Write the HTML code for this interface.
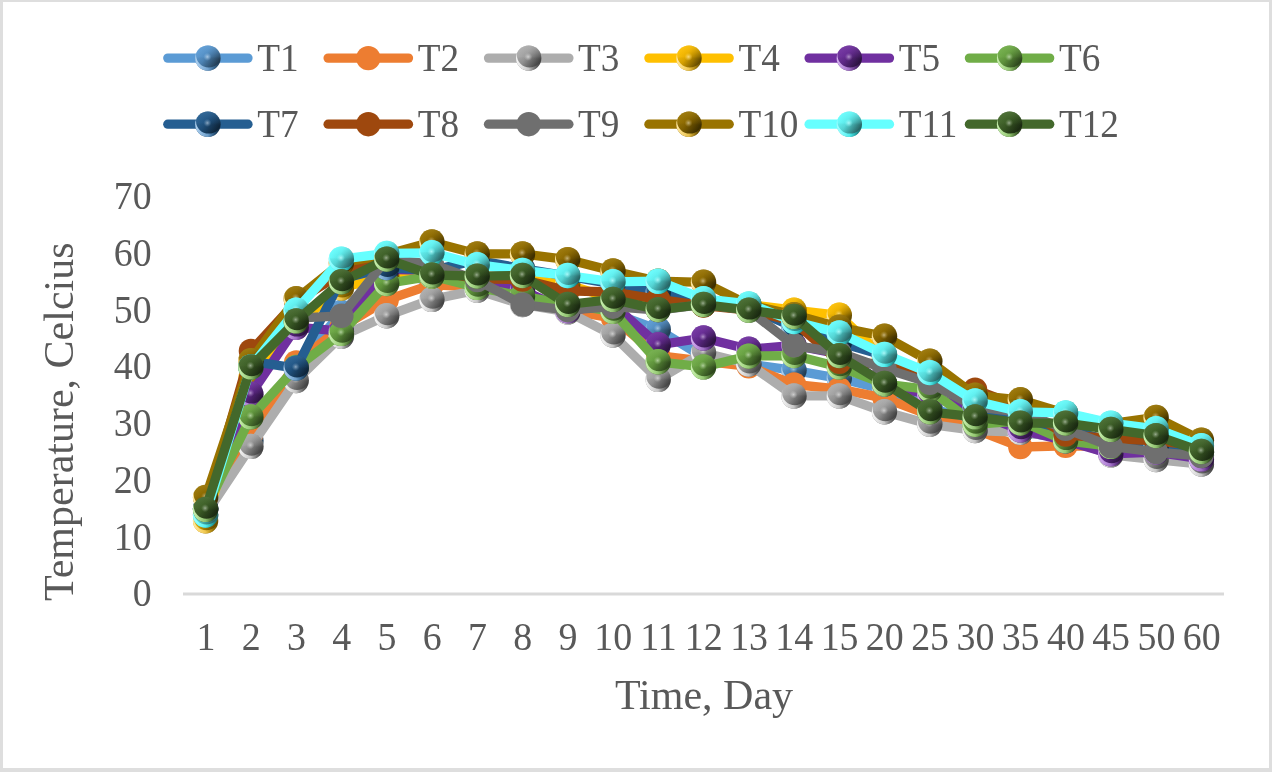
<!DOCTYPE html>
<html><head><meta charset="utf-8"><style>
html,body{margin:0;padding:0;background:#fff;}
body{width:1272px;height:772px;overflow:hidden;position:relative;}
.frame{position:absolute;left:0;top:0;width:1272px;height:772px;box-sizing:border-box;border-style:solid;border-color:#dedede;border-width:2px 3px 4px 3px;background:#fff;}
svg{position:absolute;left:0;top:0;}
.tx{will-change:transform;}
text{font-family:"Liberation Serif", serif;fill:#595959;}
.lg{font-size:38.6px;}
.ax{font-size:38.5px;}
.tt{font-size:42px;}
</style></head><body><div class="frame"></div>
<svg width="1272" height="772" viewBox="0 0 1272 772">
<defs><clipPath id="cc"><circle r="12.7"/></clipPath><linearGradient id="g0" x1="0.05" y1="0.2" x2="0.95" y2="0.65">
<stop offset="0" stop-color="#63a0d7"/><stop offset="0.4" stop-color="#518bbf"/><stop offset="1" stop-color="#243e55"/></linearGradient>
<linearGradient id="v0" x1="0" y1="0" x2="0" y2="1"><stop offset="0" stop-color="#6ba5d9" stop-opacity="0.7"/><stop offset="0.45" stop-color="#5B9BD5" stop-opacity="0.1"/><stop offset="0.55" stop-color="#000000" stop-opacity="0.05"/><stop offset="1" stop-color="#000000" stop-opacity="0.15"/></linearGradient>
<radialGradient id="r0" cx="0.48" cy="0.45" r="0.16"><stop offset="0" stop-color="#bdd7ee" stop-opacity="0.8"/><stop offset="1" stop-color="#8cb9e1" stop-opacity="0"/></radialGradient>
<linearGradient id="c0" x1="0" y1="0" x2="1" y2="0"><stop offset="0.1" stop-color="#aacded"/><stop offset="0.5" stop-color="#7dafdd" stop-opacity="0.85"/><stop offset="0.9" stop-color="#3383cb" stop-opacity="0.1"/></linearGradient>
<g id="s0"><circle r="12.7" fill="url(#g0)"/><circle r="12.7" fill="url(#v0)"/><circle r="12.7" fill="url(#r0)"/><path clip-path="url(#cc)" fill-rule="evenodd" fill="url(#c0)" d="M-14,-14H14V14H-14Z M-11.90,-3.3 a12.7,12.7 0 1,0 25.40,0 a12.7,12.7 0 1,0 -25.40,0Z"/></g><linearGradient id="g2" x1="0.05" y1="0.2" x2="0.95" y2="0.65">
<stop offset="0" stop-color="#b1b1b1"/><stop offset="0.4" stop-color="#9b9b9b"/><stop offset="1" stop-color="#454545"/></linearGradient>
<linearGradient id="v2" x1="0" y1="0" x2="0" y2="1"><stop offset="0" stop-color="#b5b5b5" stop-opacity="0.7"/><stop offset="0.45" stop-color="#ADADAD" stop-opacity="0.1"/><stop offset="0.55" stop-color="#000000" stop-opacity="0.05"/><stop offset="1" stop-color="#000000" stop-opacity="0.15"/></linearGradient>
<radialGradient id="r2" cx="0.48" cy="0.45" r="0.16"><stop offset="0" stop-color="#dedede" stop-opacity="0.8"/><stop offset="1" stop-color="#c5c5c5" stop-opacity="0"/></radialGradient>
<linearGradient id="c2" x1="0" y1="0" x2="1" y2="0"><stop offset="0.1" stop-color="#f2f2f2"/><stop offset="0.5" stop-color="#d8d8d8" stop-opacity="0.85"/><stop offset="0.9" stop-color="#7f7f7f" stop-opacity="0.1"/></linearGradient>
<g id="s2"><circle r="12.7" fill="url(#g2)"/><circle r="12.7" fill="url(#v2)"/><circle r="12.7" fill="url(#r2)"/><path clip-path="url(#cc)" fill-rule="evenodd" fill="url(#c2)" d="M-14,-14H14V14H-14Z M-11.90,-3.3 a12.7,12.7 0 1,0 25.40,0 a12.7,12.7 0 1,0 -25.40,0Z"/></g><linearGradient id="g3" x1="0.05" y1="0.2" x2="0.95" y2="0.65">
<stop offset="0" stop-color="#ffc30c"/><stop offset="0.4" stop-color="#e5ac00"/><stop offset="1" stop-color="#664c00"/></linearGradient>
<linearGradient id="v3" x1="0" y1="0" x2="0" y2="1"><stop offset="0" stop-color="#ffc619" stop-opacity="0.7"/><stop offset="0.45" stop-color="#FFC000" stop-opacity="0.1"/><stop offset="0.55" stop-color="#000000" stop-opacity="0.05"/><stop offset="1" stop-color="#000000" stop-opacity="0.15"/></linearGradient>
<radialGradient id="r3" cx="0.48" cy="0.45" r="0.16"><stop offset="0" stop-color="#ffe599" stop-opacity="0.8"/><stop offset="1" stop-color="#ffd24c" stop-opacity="0"/></radialGradient>
<linearGradient id="c3" x1="0" y1="0" x2="1" y2="0"><stop offset="0.1" stop-color="#ffe599"/><stop offset="0.5" stop-color="#ffd65b" stop-opacity="0.85"/><stop offset="0.9" stop-color="#ffc000" stop-opacity="0.1"/></linearGradient>
<g id="s3"><circle r="12.7" fill="url(#g3)"/><circle r="12.7" fill="url(#v3)"/><circle r="12.7" fill="url(#r3)"/><path clip-path="url(#cc)" fill-rule="evenodd" fill="url(#c3)" d="M-14,-14H14V14H-14Z M-11.90,-3.3 a12.7,12.7 0 1,0 25.40,0 a12.7,12.7 0 1,0 -25.40,0Z"/></g><linearGradient id="g4" x1="0.05" y1="0.2" x2="0.95" y2="0.65">
<stop offset="0" stop-color="#773aa4"/><stop offset="0.4" stop-color="#642b90"/><stop offset="1" stop-color="#2c1340"/></linearGradient>
<linearGradient id="v4" x1="0" y1="0" x2="0" y2="1"><stop offset="0" stop-color="#7e44a9" stop-opacity="0.7"/><stop offset="0.45" stop-color="#7030A0" stop-opacity="0.1"/><stop offset="0.55" stop-color="#000000" stop-opacity="0.05"/><stop offset="1" stop-color="#000000" stop-opacity="0.15"/></linearGradient>
<radialGradient id="r4" cx="0.48" cy="0.45" r="0.16"><stop offset="0" stop-color="#c5acd9" stop-opacity="0.8"/><stop offset="1" stop-color="#9a6ebc" stop-opacity="0"/></radialGradient>
<linearGradient id="c4" x1="0" y1="0" x2="1" y2="0"><stop offset="0.1" stop-color="#d0aaed"/><stop offset="0.5" stop-color="#b380da" stop-opacity="0.85"/><stop offset="0.9" stop-color="#893ac4" stop-opacity="0.1"/></linearGradient>
<g id="s4"><circle r="12.7" fill="url(#g4)"/><circle r="12.7" fill="url(#v4)"/><circle r="12.7" fill="url(#r4)"/><path clip-path="url(#cc)" fill-rule="evenodd" fill="url(#c4)" d="M-14,-14H14V14H-14Z M-11.90,-3.3 a12.7,12.7 0 1,0 25.40,0 a12.7,12.7 0 1,0 -25.40,0Z"/></g><linearGradient id="g5" x1="0.05" y1="0.2" x2="0.95" y2="0.65">
<stop offset="0" stop-color="#77b150"/><stop offset="0.4" stop-color="#649b3f"/><stop offset="1" stop-color="#2c451c"/></linearGradient>
<linearGradient id="v5" x1="0" y1="0" x2="0" y2="1"><stop offset="0" stop-color="#7eb559" stop-opacity="0.7"/><stop offset="0.45" stop-color="#70AD47" stop-opacity="0.1"/><stop offset="0.55" stop-color="#000000" stop-opacity="0.05"/><stop offset="1" stop-color="#000000" stop-opacity="0.15"/></linearGradient>
<radialGradient id="r5" cx="0.48" cy="0.45" r="0.16"><stop offset="0" stop-color="#c5deb5" stop-opacity="0.8"/><stop offset="1" stop-color="#9ac57e" stop-opacity="0"/></radialGradient>
<linearGradient id="c5" x1="0" y1="0" x2="1" y2="0"><stop offset="0.1" stop-color="#c5edaa"/><stop offset="0.5" stop-color="#a4da80" stop-opacity="0.85"/><stop offset="0.9" stop-color="#75b44a" stop-opacity="0.1"/></linearGradient>
<g id="s5"><circle r="12.7" fill="url(#g5)"/><circle r="12.7" fill="url(#v5)"/><circle r="12.7" fill="url(#r5)"/><path clip-path="url(#cc)" fill-rule="evenodd" fill="url(#c5)" d="M-14,-14H14V14H-14Z M-11.90,-3.3 a12.7,12.7 0 1,0 25.40,0 a12.7,12.7 0 1,0 -25.40,0Z"/></g><linearGradient id="g6" x1="0.05" y1="0.2" x2="0.95" y2="0.65">
<stop offset="0" stop-color="#2f6696"/><stop offset="0.4" stop-color="#215482"/><stop offset="1" stop-color="#0e253a"/></linearGradient>
<linearGradient id="v6" x1="0" y1="0" x2="0" y2="1"><stop offset="0" stop-color="#3a6e9c" stop-opacity="0.7"/><stop offset="0.45" stop-color="#255E91" stop-opacity="0.1"/><stop offset="0.55" stop-color="#000000" stop-opacity="0.05"/><stop offset="1" stop-color="#000000" stop-opacity="0.15"/></linearGradient>
<radialGradient id="r6" cx="0.48" cy="0.45" r="0.16"><stop offset="0" stop-color="#a7bed3" stop-opacity="0.8"/><stop offset="1" stop-color="#668eb2" stop-opacity="0"/></radialGradient>
<linearGradient id="c6" x1="0" y1="0" x2="1" y2="0"><stop offset="0.1" stop-color="#aacded"/><stop offset="0.5" stop-color="#7cb0dd" stop-opacity="0.85"/><stop offset="0.9" stop-color="#3383cb" stop-opacity="0.1"/></linearGradient>
<g id="s6"><circle r="12.7" fill="url(#g6)"/><circle r="12.7" fill="url(#v6)"/><circle r="12.7" fill="url(#r6)"/><path clip-path="url(#cc)" fill-rule="evenodd" fill="url(#c6)" d="M-14,-14H14V14H-14Z M-11.90,-3.3 a12.7,12.7 0 1,0 25.40,0 a12.7,12.7 0 1,0 -25.40,0Z"/></g><linearGradient id="g9" x1="0.05" y1="0.2" x2="0.95" y2="0.65">
<stop offset="0" stop-color="#9e7a0c"/><stop offset="0.4" stop-color="#896700"/><stop offset="1" stop-color="#3d2e00"/></linearGradient>
<linearGradient id="v9" x1="0" y1="0" x2="0" y2="1"><stop offset="0" stop-color="#a38119" stop-opacity="0.7"/><stop offset="0.45" stop-color="#997300" stop-opacity="0.1"/><stop offset="0.55" stop-color="#000000" stop-opacity="0.05"/><stop offset="1" stop-color="#000000" stop-opacity="0.15"/></linearGradient>
<radialGradient id="r9" cx="0.48" cy="0.45" r="0.16"><stop offset="0" stop-color="#d6c799" stop-opacity="0.8"/><stop offset="1" stop-color="#b79d4c" stop-opacity="0"/></radialGradient>
<linearGradient id="c9" x1="0" y1="0" x2="1" y2="0"><stop offset="0.1" stop-color="#ffe599"/><stop offset="0.5" stop-color="#ffd65b" stop-opacity="0.85"/><stop offset="0.9" stop-color="#ffbf00" stop-opacity="0.1"/></linearGradient>
<g id="s9"><circle r="12.7" fill="url(#g9)"/><circle r="12.7" fill="url(#v9)"/><circle r="12.7" fill="url(#r9)"/><path clip-path="url(#cc)" fill-rule="evenodd" fill="url(#c9)" d="M-14,-14H14V14H-14Z M-11.90,-3.3 a12.7,12.7 0 1,0 25.40,0 a12.7,12.7 0 1,0 -25.40,0Z"/></g><linearGradient id="g10" x1="0.05" y1="0.2" x2="0.95" y2="0.65">
<stop offset="0" stop-color="#6dffff"/><stop offset="0.4" stop-color="#5be5e5"/><stop offset="1" stop-color="#286666"/></linearGradient>
<linearGradient id="v10" x1="0" y1="0" x2="0" y2="1"><stop offset="0" stop-color="#75ffff" stop-opacity="0.7"/><stop offset="0.45" stop-color="#66FFFF" stop-opacity="0.1"/><stop offset="0.55" stop-color="#000000" stop-opacity="0.05"/><stop offset="1" stop-color="#000000" stop-opacity="0.15"/></linearGradient>
<radialGradient id="r10" cx="0.48" cy="0.45" r="0.16"><stop offset="0" stop-color="#c1ffff" stop-opacity="0.8"/><stop offset="1" stop-color="#93ffff" stop-opacity="0"/></radialGradient>
<linearGradient id="c10" x1="0" y1="0" x2="1" y2="0"><stop offset="0.1" stop-color="#99feff"/><stop offset="0.5" stop-color="#5bfeff" stop-opacity="0.85"/><stop offset="0.9" stop-color="#00feff" stop-opacity="0.1"/></linearGradient>
<g id="s10"><circle r="12.7" fill="url(#g10)"/><circle r="12.7" fill="url(#v10)"/><circle r="12.7" fill="url(#r10)"/><path clip-path="url(#cc)" fill-rule="evenodd" fill="url(#c10)" d="M-14,-14H14V14H-14Z M-11.90,-3.3 a12.7,12.7 0 1,0 25.40,0 a12.7,12.7 0 1,0 -25.40,0Z"/></g><linearGradient id="g11" x1="0.05" y1="0.2" x2="0.95" y2="0.65">
<stop offset="0" stop-color="#4c6f35"/><stop offset="0.4" stop-color="#3c5d26"/><stop offset="1" stop-color="#1a2911"/></linearGradient>
<linearGradient id="v11" x1="0" y1="0" x2="0" y2="1"><stop offset="0" stop-color="#557740" stop-opacity="0.7"/><stop offset="0.45" stop-color="#43682B" stop-opacity="0.1"/><stop offset="0.55" stop-color="#000000" stop-opacity="0.05"/><stop offset="1" stop-color="#000000" stop-opacity="0.15"/></linearGradient>
<radialGradient id="r11" cx="0.48" cy="0.45" r="0.16"><stop offset="0" stop-color="#b3c2aa" stop-opacity="0.8"/><stop offset="1" stop-color="#7b956a" stop-opacity="0"/></radialGradient>
<linearGradient id="c11" x1="0" y1="0" x2="1" y2="0"><stop offset="0.1" stop-color="#c4edaa"/><stop offset="0.5" stop-color="#a3da80" stop-opacity="0.85"/><stop offset="0.9" stop-color="#74b44a" stop-opacity="0.1"/></linearGradient>
<g id="s11"><circle r="12.7" fill="url(#g11)"/><circle r="12.7" fill="url(#v11)"/><circle r="12.7" fill="url(#r11)"/><path clip-path="url(#cc)" fill-rule="evenodd" fill="url(#c11)" d="M-14,-14H14V14H-14Z M-11.90,-3.3 a12.7,12.7 0 1,0 25.40,0 a12.7,12.7 0 1,0 -25.40,0Z"/></g></defs>
<line x1="183" y1="594" x2="1224" y2="594" stroke="#d9d9d9" stroke-width="3"/>
<g><polyline points="205.6,508.8 250.9,440.7 296.2,366.9 341.4,312.4 386.7,270.4 431.9,281.8 477.2,287.4 522.5,298.8 567.7,307.3 613.0,313.0 658.2,329.5 703.5,357.3 748.8,364.1 794.0,370.3 839.3,378.3 884.5,389.6 929.8,406.7 975.1,423.7 1020.3,432.2 1065.6,437.9 1110.8,446.4 1156.1,449.2 1201.4,454.9" fill="none" stroke="#5B9BD5" stroke-width="9.3" stroke-linejoin="round" stroke-linecap="round"/><use href="#s0" x="205.6" y="508.8"/><use href="#s0" x="250.9" y="440.7"/><use href="#s0" x="296.2" y="366.9"/><use href="#s0" x="341.4" y="312.4"/><use href="#s0" x="386.7" y="270.4"/><use href="#s0" x="431.9" y="281.8"/><use href="#s0" x="477.2" y="287.4"/><use href="#s0" x="522.5" y="298.8"/><use href="#s0" x="567.7" y="307.3"/><use href="#s0" x="613.0" y="313.0"/><use href="#s0" x="658.2" y="329.5"/><use href="#s0" x="703.5" y="357.3"/><use href="#s0" x="748.8" y="364.1"/><use href="#s0" x="794.0" y="370.3"/><use href="#s0" x="839.3" y="378.3"/><use href="#s0" x="884.5" y="389.6"/><use href="#s0" x="929.8" y="406.7"/><use href="#s0" x="975.1" y="423.7"/><use href="#s0" x="1020.3" y="432.2"/><use href="#s0" x="1065.6" y="437.9"/><use href="#s0" x="1110.8" y="446.4"/><use href="#s0" x="1156.1" y="449.2"/><use href="#s0" x="1201.4" y="454.9"/></g><g><polyline points="205.6,514.5 250.9,435.0 296.2,362.4 341.4,327.2 386.7,299.9 431.9,284.6 477.2,287.4 522.5,298.8 567.7,310.2 613.0,318.1 658.2,355.6 703.5,361.2 748.8,366.4 794.0,384.5 839.3,389.1 884.5,398.1 929.8,415.2 975.1,429.4 1020.3,447.0 1065.6,445.8 1110.8,446.4 1156.1,443.6 1201.4,457.8" fill="none" stroke="#ED7D31" stroke-width="9.3" stroke-linejoin="round" stroke-linecap="round"/><circle cx="205.6" cy="514.5" r="12.2" fill="#ED7D31"/><circle cx="250.9" cy="435.0" r="12.2" fill="#ED7D31"/><circle cx="296.2" cy="362.4" r="12.2" fill="#ED7D31"/><circle cx="341.4" cy="327.2" r="12.2" fill="#ED7D31"/><circle cx="386.7" cy="299.9" r="12.2" fill="#ED7D31"/><circle cx="431.9" cy="284.6" r="12.2" fill="#ED7D31"/><circle cx="477.2" cy="287.4" r="12.2" fill="#ED7D31"/><circle cx="522.5" cy="298.8" r="12.2" fill="#ED7D31"/><circle cx="567.7" cy="310.2" r="12.2" fill="#ED7D31"/><circle cx="613.0" cy="318.1" r="12.2" fill="#ED7D31"/><circle cx="658.2" cy="355.6" r="12.2" fill="#ED7D31"/><circle cx="703.5" cy="361.2" r="12.2" fill="#ED7D31"/><circle cx="748.8" cy="366.4" r="12.2" fill="#ED7D31"/><circle cx="794.0" cy="384.5" r="12.2" fill="#ED7D31"/><circle cx="839.3" cy="389.1" r="12.2" fill="#ED7D31"/><circle cx="884.5" cy="398.1" r="12.2" fill="#ED7D31"/><circle cx="929.8" cy="415.2" r="12.2" fill="#ED7D31"/><circle cx="975.1" cy="429.4" r="12.2" fill="#ED7D31"/><circle cx="1020.3" cy="447.0" r="12.2" fill="#ED7D31"/><circle cx="1065.6" cy="445.8" r="12.2" fill="#ED7D31"/><circle cx="1110.8" cy="446.4" r="12.2" fill="#ED7D31"/><circle cx="1156.1" cy="443.6" r="12.2" fill="#ED7D31"/><circle cx="1201.4" cy="457.8" r="12.2" fill="#ED7D31"/></g><g><polyline points="205.6,514.5 250.9,446.4 296.2,380.5 341.4,336.3 386.7,315.8 431.9,299.4 477.2,290.3 522.5,304.5 567.7,311.9 613.0,335.1 658.2,379.4 703.5,352.7 748.8,364.1 794.0,395.9 839.3,395.9 884.5,411.8 929.8,424.3 975.1,430.5 1020.3,432.2 1065.6,437.9 1110.8,454.9 1156.1,459.5 1201.4,464.0" fill="none" stroke="#ADADAD" stroke-width="9.3" stroke-linejoin="round" stroke-linecap="round"/><use href="#s2" x="205.6" y="514.5"/><use href="#s2" x="250.9" y="446.4"/><use href="#s2" x="296.2" y="380.5"/><use href="#s2" x="341.4" y="336.3"/><use href="#s2" x="386.7" y="315.8"/><use href="#s2" x="431.9" y="299.4"/><use href="#s2" x="477.2" y="290.3"/><use href="#s2" x="522.5" y="304.5"/><use href="#s2" x="567.7" y="311.9"/><use href="#s2" x="613.0" y="335.1"/><use href="#s2" x="658.2" y="379.4"/><use href="#s2" x="703.5" y="352.7"/><use href="#s2" x="748.8" y="364.1"/><use href="#s2" x="794.0" y="395.9"/><use href="#s2" x="839.3" y="395.9"/><use href="#s2" x="884.5" y="411.8"/><use href="#s2" x="929.8" y="424.3"/><use href="#s2" x="975.1" y="430.5"/><use href="#s2" x="1020.3" y="432.2"/><use href="#s2" x="1065.6" y="437.9"/><use href="#s2" x="1110.8" y="454.9"/><use href="#s2" x="1156.1" y="459.5"/><use href="#s2" x="1201.4" y="464.0"/></g><g><polyline points="205.6,520.8 250.9,378.3 296.2,324.3 341.4,288.0 386.7,276.1 431.9,276.1 477.2,281.8 522.5,278.9 567.7,284.6 613.0,298.8 658.2,304.5 703.5,304.5 748.8,304.5 794.0,310.2 839.3,315.3 884.5,357.8 929.8,378.3 975.1,406.7 1020.3,418.0 1065.6,429.4 1110.8,440.7 1156.1,443.0 1201.4,452.1" fill="none" stroke="#FFC000" stroke-width="9.3" stroke-linejoin="round" stroke-linecap="round"/><use href="#s3" x="205.6" y="520.8"/><use href="#s3" x="250.9" y="378.3"/><use href="#s3" x="296.2" y="324.3"/><use href="#s3" x="341.4" y="288.0"/><use href="#s3" x="386.7" y="276.1"/><use href="#s3" x="431.9" y="276.1"/><use href="#s3" x="477.2" y="281.8"/><use href="#s3" x="522.5" y="278.9"/><use href="#s3" x="567.7" y="284.6"/><use href="#s3" x="613.0" y="298.8"/><use href="#s3" x="658.2" y="304.5"/><use href="#s3" x="703.5" y="304.5"/><use href="#s3" x="748.8" y="304.5"/><use href="#s3" x="794.0" y="310.2"/><use href="#s3" x="839.3" y="315.3"/><use href="#s3" x="884.5" y="357.8"/><use href="#s3" x="929.8" y="378.3"/><use href="#s3" x="975.1" y="406.7"/><use href="#s3" x="1020.3" y="418.0"/><use href="#s3" x="1065.6" y="429.4"/><use href="#s3" x="1110.8" y="440.7"/><use href="#s3" x="1156.1" y="443.0"/><use href="#s3" x="1201.4" y="452.1"/></g><g><polyline points="205.6,508.8 250.9,394.2 296.2,327.2 341.4,331.2 386.7,269.3 431.9,270.4 477.2,281.8 522.5,290.3 567.7,310.7 613.0,304.5 658.2,344.8 703.5,338.0 748.8,349.3 794.0,345.3 839.3,353.9 884.5,384.0 929.8,395.3 975.1,412.3 1020.3,429.9 1065.6,440.7 1110.8,453.8 1156.1,452.1 1201.4,458.9" fill="none" stroke="#7030A0" stroke-width="9.3" stroke-linejoin="round" stroke-linecap="round"/><use href="#s4" x="205.6" y="508.8"/><use href="#s4" x="250.9" y="394.2"/><use href="#s4" x="296.2" y="327.2"/><use href="#s4" x="341.4" y="331.2"/><use href="#s4" x="386.7" y="269.3"/><use href="#s4" x="431.9" y="270.4"/><use href="#s4" x="477.2" y="281.8"/><use href="#s4" x="522.5" y="290.3"/><use href="#s4" x="567.7" y="310.7"/><use href="#s4" x="613.0" y="304.5"/><use href="#s4" x="658.2" y="344.8"/><use href="#s4" x="703.5" y="338.0"/><use href="#s4" x="748.8" y="349.3"/><use href="#s4" x="794.0" y="345.3"/><use href="#s4" x="839.3" y="353.9"/><use href="#s4" x="884.5" y="384.0"/><use href="#s4" x="929.8" y="395.3"/><use href="#s4" x="975.1" y="412.3"/><use href="#s4" x="1020.3" y="429.9"/><use href="#s4" x="1065.6" y="440.7"/><use href="#s4" x="1110.8" y="453.8"/><use href="#s4" x="1156.1" y="452.1"/><use href="#s4" x="1201.4" y="458.9"/></g><g><polyline points="205.6,508.8 250.9,416.9 296.2,367.5 341.4,333.4 386.7,283.5 431.9,276.1 477.2,287.4 522.5,296.0 567.7,304.5 613.0,311.3 658.2,361.8 703.5,366.9 748.8,356.1 794.0,355.6 839.3,366.9 884.5,384.0 929.8,389.6 975.1,424.3 1020.3,420.9 1065.6,440.7 1110.8,446.4 1156.1,449.2 1201.4,452.1" fill="none" stroke="#70AD47" stroke-width="9.3" stroke-linejoin="round" stroke-linecap="round"/><use href="#s5" x="205.6" y="508.8"/><use href="#s5" x="250.9" y="416.9"/><use href="#s5" x="296.2" y="367.5"/><use href="#s5" x="341.4" y="333.4"/><use href="#s5" x="386.7" y="283.5"/><use href="#s5" x="431.9" y="276.1"/><use href="#s5" x="477.2" y="287.4"/><use href="#s5" x="522.5" y="296.0"/><use href="#s5" x="567.7" y="304.5"/><use href="#s5" x="613.0" y="311.3"/><use href="#s5" x="658.2" y="361.8"/><use href="#s5" x="703.5" y="366.9"/><use href="#s5" x="748.8" y="356.1"/><use href="#s5" x="794.0" y="355.6"/><use href="#s5" x="839.3" y="366.9"/><use href="#s5" x="884.5" y="384.0"/><use href="#s5" x="929.8" y="389.6"/><use href="#s5" x="975.1" y="424.3"/><use href="#s5" x="1020.3" y="420.9"/><use href="#s5" x="1065.6" y="440.7"/><use href="#s5" x="1110.8" y="446.4"/><use href="#s5" x="1156.1" y="449.2"/><use href="#s5" x="1201.4" y="452.1"/></g><g><polyline points="205.6,508.8 250.9,361.2 296.2,368.1 341.4,278.9 386.7,267.6 431.9,270.4 477.2,260.2 522.5,268.7 567.7,276.1 613.0,284.0 658.2,292.6 703.5,301.6 748.8,307.3 794.0,327.2 839.3,342.5 884.5,355.6 929.8,378.3 975.1,406.7 1020.3,418.0 1065.6,429.4 1110.8,440.7 1156.1,446.4 1201.4,452.1" fill="none" stroke="#255E91" stroke-width="9.3" stroke-linejoin="round" stroke-linecap="round"/><use href="#s6" x="205.6" y="508.8"/><use href="#s6" x="250.9" y="361.2"/><use href="#s6" x="296.2" y="368.1"/><use href="#s6" x="341.4" y="278.9"/><use href="#s6" x="386.7" y="267.6"/><use href="#s6" x="431.9" y="270.4"/><use href="#s6" x="477.2" y="260.2"/><use href="#s6" x="522.5" y="268.7"/><use href="#s6" x="567.7" y="276.1"/><use href="#s6" x="613.0" y="284.0"/><use href="#s6" x="658.2" y="292.6"/><use href="#s6" x="703.5" y="301.6"/><use href="#s6" x="748.8" y="307.3"/><use href="#s6" x="794.0" y="327.2"/><use href="#s6" x="839.3" y="342.5"/><use href="#s6" x="884.5" y="355.6"/><use href="#s6" x="929.8" y="378.3"/><use href="#s6" x="975.1" y="406.7"/><use href="#s6" x="1020.3" y="418.0"/><use href="#s6" x="1065.6" y="429.4"/><use href="#s6" x="1110.8" y="440.7"/><use href="#s6" x="1156.1" y="446.4"/><use href="#s6" x="1201.4" y="452.1"/></g><g><polyline points="205.6,508.8 250.9,351.0 296.2,301.6 341.4,273.2 386.7,256.2 431.9,270.4 477.2,278.9 522.5,279.5 567.7,290.8 613.0,292.0 658.2,299.4 703.5,305.6 748.8,310.2 794.0,321.5 839.3,361.8 884.5,364.1 929.8,378.3 975.1,389.6 1020.3,406.7 1065.6,434.5 1110.8,439.0 1156.1,440.7 1201.4,446.4" fill="none" stroke="#9E480E" stroke-width="9.3" stroke-linejoin="round" stroke-linecap="round"/><circle cx="205.6" cy="508.8" r="12.2" fill="#9E480E"/><circle cx="250.9" cy="351.0" r="12.2" fill="#9E480E"/><circle cx="296.2" cy="301.6" r="12.2" fill="#9E480E"/><circle cx="341.4" cy="273.2" r="12.2" fill="#9E480E"/><circle cx="386.7" cy="256.2" r="12.2" fill="#9E480E"/><circle cx="431.9" cy="270.4" r="12.2" fill="#9E480E"/><circle cx="477.2" cy="278.9" r="12.2" fill="#9E480E"/><circle cx="522.5" cy="279.5" r="12.2" fill="#9E480E"/><circle cx="567.7" cy="290.8" r="12.2" fill="#9E480E"/><circle cx="613.0" cy="292.0" r="12.2" fill="#9E480E"/><circle cx="658.2" cy="299.4" r="12.2" fill="#9E480E"/><circle cx="703.5" cy="305.6" r="12.2" fill="#9E480E"/><circle cx="748.8" cy="310.2" r="12.2" fill="#9E480E"/><circle cx="794.0" cy="321.5" r="12.2" fill="#9E480E"/><circle cx="839.3" cy="361.8" r="12.2" fill="#9E480E"/><circle cx="884.5" cy="364.1" r="12.2" fill="#9E480E"/><circle cx="929.8" cy="378.3" r="12.2" fill="#9E480E"/><circle cx="975.1" cy="389.6" r="12.2" fill="#9E480E"/><circle cx="1020.3" cy="406.7" r="12.2" fill="#9E480E"/><circle cx="1065.6" cy="434.5" r="12.2" fill="#9E480E"/><circle cx="1110.8" cy="439.0" r="12.2" fill="#9E480E"/><circle cx="1156.1" cy="440.7" r="12.2" fill="#9E480E"/><circle cx="1201.4" cy="446.4" r="12.2" fill="#9E480E"/></g><g><polyline points="205.6,508.8 250.9,361.2 296.2,318.1 341.4,315.8 386.7,259.1 431.9,264.2 477.2,280.1 522.5,304.5 567.7,310.2 613.0,306.7 658.2,310.2 703.5,304.5 748.8,310.2 794.0,345.3 839.3,352.7 884.5,368.6 929.8,382.8 975.1,406.7 1020.3,412.3 1065.6,428.8 1110.8,446.4 1156.1,452.1 1201.4,456.0" fill="none" stroke="#6f6f6f" stroke-width="9.3" stroke-linejoin="round" stroke-linecap="round"/><circle cx="205.6" cy="508.8" r="12.2" fill="#6f6f6f"/><circle cx="250.9" cy="361.2" r="12.2" fill="#6f6f6f"/><circle cx="296.2" cy="318.1" r="12.2" fill="#6f6f6f"/><circle cx="341.4" cy="315.8" r="12.2" fill="#6f6f6f"/><circle cx="386.7" cy="259.1" r="12.2" fill="#6f6f6f"/><circle cx="431.9" cy="264.2" r="12.2" fill="#6f6f6f"/><circle cx="477.2" cy="280.1" r="12.2" fill="#6f6f6f"/><circle cx="522.5" cy="304.5" r="12.2" fill="#6f6f6f"/><circle cx="567.7" cy="310.2" r="12.2" fill="#6f6f6f"/><circle cx="613.0" cy="306.7" r="12.2" fill="#6f6f6f"/><circle cx="658.2" cy="310.2" r="12.2" fill="#6f6f6f"/><circle cx="703.5" cy="304.5" r="12.2" fill="#6f6f6f"/><circle cx="748.8" cy="310.2" r="12.2" fill="#6f6f6f"/><circle cx="794.0" cy="345.3" r="12.2" fill="#6f6f6f"/><circle cx="839.3" cy="352.7" r="12.2" fill="#6f6f6f"/><circle cx="884.5" cy="368.6" r="12.2" fill="#6f6f6f"/><circle cx="929.8" cy="382.8" r="12.2" fill="#6f6f6f"/><circle cx="975.1" cy="406.7" r="12.2" fill="#6f6f6f"/><circle cx="1020.3" cy="412.3" r="12.2" fill="#6f6f6f"/><circle cx="1065.6" cy="428.8" r="12.2" fill="#6f6f6f"/><circle cx="1110.8" cy="446.4" r="12.2" fill="#6f6f6f"/><circle cx="1156.1" cy="452.1" r="12.2" fill="#6f6f6f"/><circle cx="1201.4" cy="456.0" r="12.2" fill="#6f6f6f"/></g><g><polyline points="205.6,497.5 250.9,360.7 296.2,298.8 341.4,263.0 386.7,254.5 431.9,242.0 477.2,253.9 522.5,253.9 567.7,259.6 613.0,271.0 658.2,281.2 703.5,282.3 748.8,305.0 794.0,314.7 839.3,327.2 884.5,336.3 929.8,361.2 975.1,395.3 1020.3,399.8 1065.6,413.5 1110.8,423.7 1156.1,417.4 1201.4,440.2" fill="none" stroke="#997300" stroke-width="9.3" stroke-linejoin="round" stroke-linecap="round"/><use href="#s9" x="205.6" y="497.5"/><use href="#s9" x="250.9" y="360.7"/><use href="#s9" x="296.2" y="298.8"/><use href="#s9" x="341.4" y="263.0"/><use href="#s9" x="386.7" y="254.5"/><use href="#s9" x="431.9" y="242.0"/><use href="#s9" x="477.2" y="253.9"/><use href="#s9" x="522.5" y="253.9"/><use href="#s9" x="567.7" y="259.6"/><use href="#s9" x="613.0" y="271.0"/><use href="#s9" x="658.2" y="281.2"/><use href="#s9" x="703.5" y="282.3"/><use href="#s9" x="748.8" y="305.0"/><use href="#s9" x="794.0" y="314.7"/><use href="#s9" x="839.3" y="327.2"/><use href="#s9" x="884.5" y="336.3"/><use href="#s9" x="929.8" y="361.2"/><use href="#s9" x="975.1" y="395.3"/><use href="#s9" x="1020.3" y="399.8"/><use href="#s9" x="1065.6" y="413.5"/><use href="#s9" x="1110.8" y="423.7"/><use href="#s9" x="1156.1" y="417.4"/><use href="#s9" x="1201.4" y="440.2"/></g><g><polyline points="205.6,515.1 250.9,366.9 296.2,310.2 341.4,259.1 386.7,253.4 431.9,252.8 477.2,264.7 522.5,270.4 567.7,275.5 613.0,281.8 658.2,281.2 703.5,298.8 748.8,303.9 794.0,321.5 839.3,332.9 884.5,354.4 929.8,372.6 975.1,401.0 1020.3,411.8 1065.6,412.9 1110.8,423.1 1156.1,428.8 1201.4,445.8" fill="none" stroke="#66FFFF" stroke-width="9.3" stroke-linejoin="round" stroke-linecap="round"/><use href="#s10" x="205.6" y="515.1"/><use href="#s10" x="250.9" y="366.9"/><use href="#s10" x="296.2" y="310.2"/><use href="#s10" x="341.4" y="259.1"/><use href="#s10" x="386.7" y="253.4"/><use href="#s10" x="431.9" y="252.8"/><use href="#s10" x="477.2" y="264.7"/><use href="#s10" x="522.5" y="270.4"/><use href="#s10" x="567.7" y="275.5"/><use href="#s10" x="613.0" y="281.8"/><use href="#s10" x="658.2" y="281.2"/><use href="#s10" x="703.5" y="298.8"/><use href="#s10" x="748.8" y="303.9"/><use href="#s10" x="794.0" y="321.5"/><use href="#s10" x="839.3" y="332.9"/><use href="#s10" x="884.5" y="354.4"/><use href="#s10" x="929.8" y="372.6"/><use href="#s10" x="975.1" y="401.0"/><use href="#s10" x="1020.3" y="411.8"/><use href="#s10" x="1065.6" y="412.9"/><use href="#s10" x="1110.8" y="423.1"/><use href="#s10" x="1156.1" y="428.8"/><use href="#s10" x="1201.4" y="445.8"/></g><g><polyline points="205.6,509.4 250.9,366.9 296.2,320.9 341.4,281.8 386.7,259.1 431.9,275.0 477.2,276.1 522.5,275.5 567.7,304.5 613.0,299.4 658.2,309.6 703.5,304.5 748.8,310.2 794.0,316.4 839.3,355.6 884.5,383.4 929.8,411.8 975.1,416.9 1020.3,423.1 1065.6,423.1 1110.8,429.4 1156.1,435.6 1201.4,451.5" fill="none" stroke="#43682B" stroke-width="9.3" stroke-linejoin="round" stroke-linecap="round"/><use href="#s11" x="205.6" y="509.4"/><use href="#s11" x="250.9" y="366.9"/><use href="#s11" x="296.2" y="320.9"/><use href="#s11" x="341.4" y="281.8"/><use href="#s11" x="386.7" y="259.1"/><use href="#s11" x="431.9" y="275.0"/><use href="#s11" x="477.2" y="276.1"/><use href="#s11" x="522.5" y="275.5"/><use href="#s11" x="567.7" y="304.5"/><use href="#s11" x="613.0" y="299.4"/><use href="#s11" x="658.2" y="309.6"/><use href="#s11" x="703.5" y="304.5"/><use href="#s11" x="748.8" y="310.2"/><use href="#s11" x="794.0" y="316.4"/><use href="#s11" x="839.3" y="355.6"/><use href="#s11" x="884.5" y="383.4"/><use href="#s11" x="929.8" y="411.8"/><use href="#s11" x="975.1" y="416.9"/><use href="#s11" x="1020.3" y="423.1"/><use href="#s11" x="1065.6" y="423.1"/><use href="#s11" x="1110.8" y="429.4"/><use href="#s11" x="1156.1" y="435.6"/><use href="#s11" x="1201.4" y="451.5"/></g>
<line x1="167.8" y1="58.1" x2="248.0" y2="58.1" stroke="#5B9BD5" stroke-width="9.3" stroke-linecap="round"/><use href="#s0" x="207.9" y="58.1"/><line x1="328.1" y1="58.1" x2="408.5" y2="58.1" stroke="#ED7D31" stroke-width="9.3" stroke-linecap="round"/><circle cx="368.3" cy="58.1" r="12.2" fill="#ED7D31"/><line x1="488.5" y1="58.1" x2="568.9" y2="58.1" stroke="#ADADAD" stroke-width="9.3" stroke-linecap="round"/><use href="#s2" x="528.7" y="58.1"/><line x1="648.9" y1="58.1" x2="729.2" y2="58.1" stroke="#FFC000" stroke-width="9.3" stroke-linecap="round"/><use href="#s3" x="689.0" y="58.1"/><line x1="809.1" y1="58.1" x2="889.5" y2="58.1" stroke="#7030A0" stroke-width="9.3" stroke-linecap="round"/><use href="#s4" x="849.3" y="58.1"/><line x1="969.4" y1="58.1" x2="1049.7" y2="58.1" stroke="#70AD47" stroke-width="9.3" stroke-linecap="round"/><use href="#s5" x="1009.6" y="58.1"/><line x1="167.8" y1="124.2" x2="248.0" y2="124.2" stroke="#255E91" stroke-width="9.3" stroke-linecap="round"/><use href="#s6" x="207.9" y="124.2"/><line x1="328.1" y1="124.2" x2="408.5" y2="124.2" stroke="#9E480E" stroke-width="9.3" stroke-linecap="round"/><circle cx="368.3" cy="124.2" r="12.2" fill="#9E480E"/><line x1="488.5" y1="124.2" x2="568.9" y2="124.2" stroke="#6f6f6f" stroke-width="9.3" stroke-linecap="round"/><circle cx="528.7" cy="124.2" r="12.2" fill="#6f6f6f"/><line x1="648.9" y1="124.2" x2="729.2" y2="124.2" stroke="#997300" stroke-width="9.3" stroke-linecap="round"/><use href="#s9" x="689.0" y="124.2"/><line x1="809.1" y1="124.2" x2="889.5" y2="124.2" stroke="#66FFFF" stroke-width="9.3" stroke-linecap="round"/><use href="#s10" x="849.3" y="124.2"/><line x1="969.4" y1="124.2" x2="1049.7" y2="124.2" stroke="#43682B" stroke-width="9.3" stroke-linecap="round"/><use href="#s11" x="1009.6" y="124.2"/>
</svg>
<svg class="tx" width="1272" height="772" viewBox="0 0 1272 772">
<text transform="translate(151.7,606.4) scale(0.985,1.055)" class="ax" text-anchor="end">0</text><text transform="translate(151.7,549.6) scale(0.985,1.055)" class="ax" text-anchor="end">10</text><text transform="translate(151.7,492.9) scale(0.985,1.055)" class="ax" text-anchor="end">20</text><text transform="translate(151.7,436.1) scale(0.985,1.055)" class="ax" text-anchor="end">30</text><text transform="translate(151.7,379.3) scale(0.985,1.055)" class="ax" text-anchor="end">40</text><text transform="translate(151.7,322.6) scale(0.985,1.055)" class="ax" text-anchor="end">50</text><text transform="translate(151.7,265.8) scale(0.985,1.055)" class="ax" text-anchor="end">60</text><text transform="translate(151.7,209.0) scale(0.985,1.055)" class="ax" text-anchor="end">70</text>
<text transform="translate(205.9,649.9) scale(0.985,1.055)" class="ax" text-anchor="middle">1</text><text transform="translate(251.2,649.9) scale(0.985,1.055)" class="ax" text-anchor="middle">2</text><text transform="translate(296.5,649.9) scale(0.985,1.055)" class="ax" text-anchor="middle">3</text><text transform="translate(341.7,649.9) scale(0.985,1.055)" class="ax" text-anchor="middle">4</text><text transform="translate(387.0,649.9) scale(0.985,1.055)" class="ax" text-anchor="middle">5</text><text transform="translate(432.2,649.9) scale(0.985,1.055)" class="ax" text-anchor="middle">6</text><text transform="translate(477.5,649.9) scale(0.985,1.055)" class="ax" text-anchor="middle">7</text><text transform="translate(522.8,649.9) scale(0.985,1.055)" class="ax" text-anchor="middle">8</text><text transform="translate(568.0,649.9) scale(0.985,1.055)" class="ax" text-anchor="middle">9</text><text transform="translate(613.3,649.9) scale(0.985,1.055)" class="ax" text-anchor="middle">10</text><text transform="translate(658.5,649.9) scale(0.985,1.055)" class="ax" text-anchor="middle">11</text><text transform="translate(703.8,649.9) scale(0.985,1.055)" class="ax" text-anchor="middle">12</text><text transform="translate(749.1,649.9) scale(0.985,1.055)" class="ax" text-anchor="middle">13</text><text transform="translate(794.3,649.9) scale(0.985,1.055)" class="ax" text-anchor="middle">14</text><text transform="translate(839.6,649.9) scale(0.985,1.055)" class="ax" text-anchor="middle">15</text><text transform="translate(884.8,649.9) scale(0.985,1.055)" class="ax" text-anchor="middle">20</text><text transform="translate(930.1,649.9) scale(0.985,1.055)" class="ax" text-anchor="middle">25</text><text transform="translate(975.4,649.9) scale(0.985,1.055)" class="ax" text-anchor="middle">30</text><text transform="translate(1020.6,649.9) scale(0.985,1.055)" class="ax" text-anchor="middle">35</text><text transform="translate(1065.9,649.9) scale(0.985,1.055)" class="ax" text-anchor="middle">40</text><text transform="translate(1111.1,649.9) scale(0.985,1.055)" class="ax" text-anchor="middle">45</text><text transform="translate(1156.4,649.9) scale(0.985,1.055)" class="ax" text-anchor="middle">50</text><text transform="translate(1201.7,649.9) scale(0.985,1.055)" class="ax" text-anchor="middle">60</text>
<text x="704" y="709.2" class="tt" text-anchor="middle">Time, Day</text>
<text transform="translate(72.6,421.7) rotate(-90)" x="0" y="0" class="tt" text-anchor="middle">Temperature, Celcius</text>
<text transform="translate(257.3,70.9) scale(0.965,1.02)" class="lg">T1</text><text transform="translate(417.7,70.9) scale(0.965,1.02)" class="lg">T2</text><text transform="translate(578.1,70.9) scale(0.965,1.02)" class="lg">T3</text><text transform="translate(738.4,70.9) scale(0.965,1.02)" class="lg">T4</text><text transform="translate(898.7,70.9) scale(0.965,1.02)" class="lg">T5</text><text transform="translate(1059.0,70.9) scale(0.965,1.02)" class="lg">T6</text><text transform="translate(257.3,137.0) scale(0.965,1.02)" class="lg">T7</text><text transform="translate(417.7,137.0) scale(0.965,1.02)" class="lg">T8</text><text transform="translate(578.1,137.0) scale(0.965,1.02)" class="lg">T9</text><text transform="translate(738.4,137.0) scale(0.965,1.02)" class="lg">T10</text><text transform="translate(898.7,137.0) scale(0.965,1.02)" class="lg">T11</text><text transform="translate(1059.0,137.0) scale(0.965,1.02)" class="lg">T12</text>
</svg></body></html>
